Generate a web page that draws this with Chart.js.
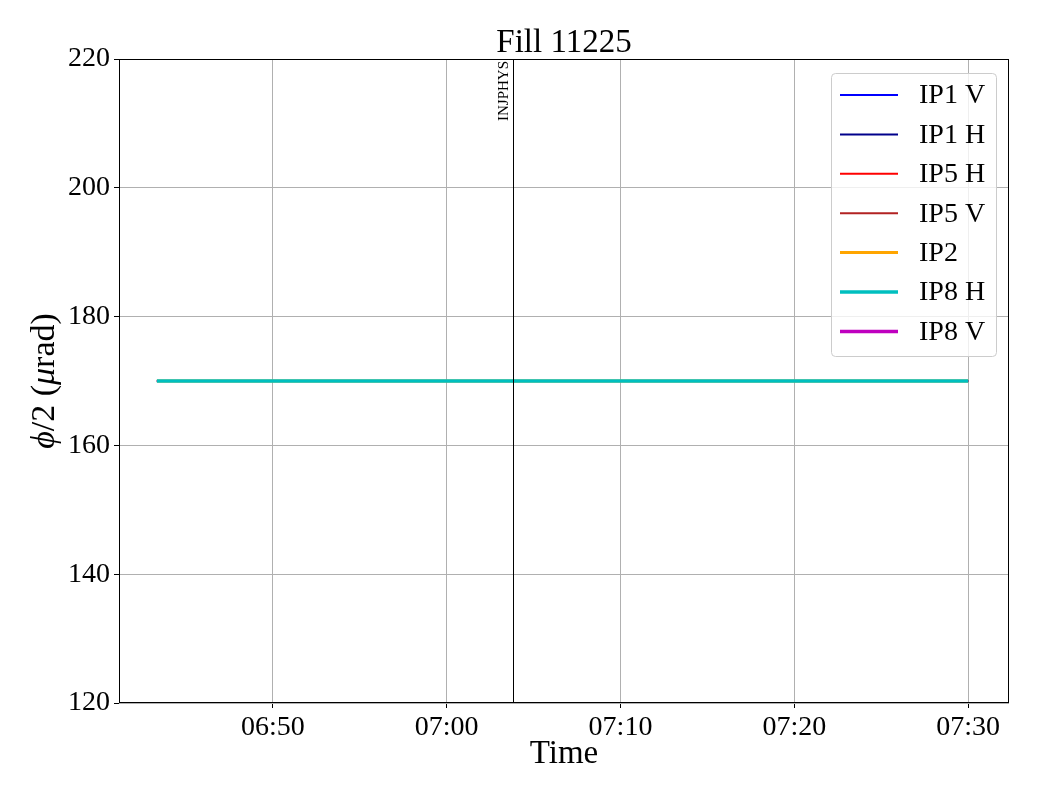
<!DOCTYPE html>
<html>
<head>
<meta charset="UTF-8">
<title>Fill 11225</title>
<script src="https://cdn.jsdelivr.net/npm/chart.js@4.4.1/dist/chart.umd.min.js"></script>
<style>
  body { margin: 0; background: #fff; }
</style>
</head>
<body>
<canvas id="myChart" width="1040" height="800"></canvas>
<script>
// time in minutes since midnight
var times = [403.33, 410.0, 420.0, 430.0, 440.0, 450.0];
var ip1v = [170, 170, 170, 170, 170, 170];
var ip1h = [170, 170, 170, 170, 170, 170];
var ip5h = [170, 170, 170, 170, 170, 170];
var ip5v = [170, 170, 170, 170, 170, 170];
var ip2 = [170, 170, 170, 170, 170, 170];
var ip8h = [170, 170, 170, 170, 170, 170];
var ip8v = [];

var xTicks = [410, 420, 430, 440, 450];
var yTicks = [120, 140, 160, 180, 200, 220];
var xMin = 401.15, xMax = 452.35;

var injTime = 423.8;
var injLabel = 'INJPHYS';

var SERIF = '"Liberation Serif", "DejaVu Serif", serif';

function pts(arr) {
    var out = [];
    for (var i = 0; i < arr.length; i++) out.push({x: times[i], y: arr[i]});
    return out;
}
function hhmm(v) {
    var h = Math.floor(v / 60), m = Math.round(v - h * 60);
    return (h < 10 ? '0' : '') + h + ':' + (m < 10 ? '0' : '') + m;
}

var series = [
    {label: 'IP1 V', data: ip1v, color: '#0000ff', w: 2},
    {label: 'IP1 H', data: ip1h, color: '#00008b', w: 2},
    {label: 'IP5 H', data: ip5h, color: '#ff0000', w: 2},
    {label: 'IP5 V', data: ip5v, color: '#b22222', w: 2},
    {label: 'IP2',   data: ip2,  color: '#ffa500', w: 3},
    {label: 'IP8 H', data: ip8h, color: '#00bfbf', w: 3.5},
    {label: 'IP8 V', data: ip8v, color: '#bf00bf', w: 3.5}
];

var decor = {
    id: 'decor',
    afterDatasetsDraw: function(chart) {
        var c = chart.ctx, a = chart.chartArea;
        var xs = chart.scales.x;
        c.save();
        // marker line
        var px = Math.round(xs.getPixelForValue(injTime)) + 0.5;
        c.strokeStyle = '#000';
        c.lineWidth = 1;
        c.beginPath();
        c.moveTo(px, a.top);
        c.lineTo(px, a.bottom);
        c.stroke();
        c.save();
        c.translate(px - 2, a.top + 2);
        c.rotate(-Math.PI / 2);
        c.fillStyle = '#000';
        c.font = '15px ' + SERIF;
        c.textAlign = 'right';
        c.textBaseline = 'bottom';
        c.fillText(injLabel, 0, 0);
        c.restore();

        // frame
        c.strokeStyle = '#000';
        c.lineWidth = 1;
        c.strokeRect(a.left + 0.5, a.top + 0.5, a.right - a.left - 1, a.bottom - a.top - 1);

        // title
        c.fillStyle = '#000';
        c.font = '33px ' + SERIF;
        c.textAlign = 'center';
        c.textBaseline = 'alphabetic';
        c.fillText('Fill 11225', (a.left + a.right) / 2, 52);

        // x title
        c.fillText('Time', (a.left + a.right) / 2, 763);

        // y title with italic parts
        var parts = [['\u03D5', 'italic '], ['/2 (', ''], ['\u03BC', 'italic '], ['rad)', '']];
        var tot = 0;
        parts.forEach(function(p) { c.font = p[1] + '34px ' + SERIF; tot += c.measureText(p[0]).width; });
        c.save();
        c.translate(54, (a.top + a.bottom) / 2);
        c.rotate(-Math.PI / 2);
        c.textAlign = 'left';
        var x0 = -tot / 2;
        parts.forEach(function(p) {
            c.font = p[1] + '34px ' + SERIF;
            c.fillText(p[0], x0, 0);
            x0 += c.measureText(p[0]).width;
        });
        c.restore();

        // legend
        var lx = 831, ly = 73, lw = 165, lh = 283;
        c.beginPath();
        c.roundRect(lx + 0.5, ly + 0.5, lw, lh, 4);
        c.fillStyle = 'rgba(255,255,255,0.8)';
        c.fill();
        c.strokeStyle = '#cccccc';
        c.lineWidth = 1;
        c.stroke();
        c.font = '28px ' + SERIF;
        c.textAlign = 'left';
        c.textBaseline = 'middle';
        series.forEach(function(s, i) {
            var yy = 95 + i * 39.4;
            c.strokeStyle = s.color;
            c.lineWidth = s.w;
            c.beginPath();
            c.moveTo(840, yy);
            c.lineTo(898, yy);
            c.stroke();
            c.fillStyle = '#000';
            c.fillText(s.label, 919, yy + 1);
        });
        c.restore();
    }
};

var ctx = document.getElementById('myChart');
var myChart = new Chart(ctx, {
    type: 'line',
    data: {
        datasets: series.map(function(s) {
            return {
                label: s.label,
                data: pts(s.data),
                borderColor: s.color,
                backgroundColor: s.color,
                borderWidth: s.w,
                pointRadius: 0,
                order: s.label === 'IP8 H' ? 0 : 1
            };
        })
    },
    options: {
        responsive: false,
        animation: false,
        layout: { padding: { top: 59, right: 31, left: 0, bottom: 0 } },
        plugins: { legend: { display: false }, title: { display: false }, tooltip: { enabled: false } },
        scales: {
            x: {
                type: 'linear',
                min: xMin, max: xMax,
                afterBuildTicks: function(s) { s.ticks = xTicks.map(function(v) { return {value: v}; }); },
                afterFit: function(s) { s.height = 97; },
                grid: { color: '#b0b0b0', tickColor: '#000', tickLength: 5, lineWidth: 1 },
                border: { display: false },
                ticks: {
                    color: '#000', padding: 3, maxRotation: 0, autoSkip: false,
                    font: { family: SERIF, size: 28 },
                    callback: function(v) { return hhmm(v); }
                }
            },
            y: {
                min: 120, max: 220,
                afterBuildTicks: function(s) { s.ticks = yTicks.map(function(v) { return {value: v}; }); },
                afterFit: function(s) { s.width = 119; },
                grid: { color: '#b0b0b0', tickColor: '#000', tickLength: 5, lineWidth: 1 },
                border: { display: false },
                ticks: {
                    color: '#000', padding: 4,
                    font: { family: SERIF, size: 28 }
                }
            }
        }
    },
    plugins: [decor]
});
</script>
</body>
</html>
